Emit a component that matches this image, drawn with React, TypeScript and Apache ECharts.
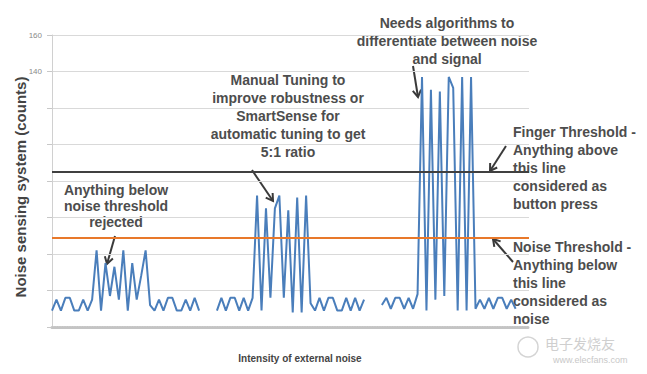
import React, { useEffect, useRef } from "react";
import * as echarts from "echarts";

const sensorCounts: (number | null)[] = [
  // low-noise region
  9, 15, 9, 16, 16, 9, 9, 15, 9, 15, 42, 9, 35, 17, 33, 15, 42, 9, 35, 15, 28, 42,
  12, 9, 15, 9, 16, 16, 9, 9, 15, 9, 16, 9,
  null, null, null,
  // medium-noise region
  9, 16, 9, 16, 16, 9, 16, 9, 16, 72, 9, 65, 16, 65, 72, 16, 64, 8, 71, 8, 72,
  13, 9, 16, 9, 16, 16, 9, 9, 16, 9, 16, 9, 15,
  null, null, null,
  // high-noise region
  12, 16, 10, 16, 16, 10, 16, 10, 18, 137, 9, 130, 15, 129, 17, 137, 131, 9, 137, 9, 137,
  10, 15, 10, 16, 10, 16, 16, 10, 15, 10,
  null, null, null,
];
const sampleIndex = sensorCounts.map((_, i) => String(i));
const yTickLabels = [160, 140];
const fingerThreshold = 85;
const noiseThreshold = 49;

const FONT = "'Liberation Sans', Arial, sans-serif";
const TXT = "#4d4d4d";

function arrow(x1: number, y1: number, x2: number, y2: number) {
  const ang = Math.atan2(y2 - y1, x2 - x1);
  const L = 8;
  const spread = 0.55;
  const a1 = ang + Math.PI - spread;
  const a2 = ang + Math.PI + spread;
  return {
    type: "group",
    silent: true,
    children: [
      { type: "line", shape: { x1, y1, x2, y2 }, style: { stroke: "#3a3a3a", lineWidth: 2 } },
      {
        type: "polyline",
        shape: {
          points: [
            [x2 + L * Math.cos(a1), y2 + L * Math.sin(a1)],
            [x2, y2],
            [x2 + L * Math.cos(a2), y2 + L * Math.sin(a2)],
          ],
        },
        style: { stroke: "#3a3a3a", lineWidth: 2, fill: "none" },
      },
    ],
  };
}

function note(text: string, x: number, y: number, align: string, lh: number) {
  return {
    type: "text",
    x,
    y,
    silent: true,
    style: {
      text,
      fill: TXT,
      font: `bold 14px ${FONT}`,
      align,
      verticalAlign: "top",
      lineHeight: lh,
    },
  };
}

export default function App() {
  const ref = useRef<HTMLDivElement>(null);
  useEffect(() => {
    if (!ref.current) return;
    const chart = echarts.init(ref.current, null, { renderer: "svg" });
    chart.setOption({
      animation: false,
      backgroundColor: "#ffffff",
      grid: { left: 52, top: 35, width: 477, height: 292, containLabel: false },
      xAxis: {
        type: "category",
        data: sampleIndex,
        boundaryGap: false,
        axisLine: { lineStyle: { color: "#c4c4c4", width: 3, type: [1, 1.5] } },
        axisTick: { show: false },
        axisLabel: { show: false },
        splitLine: { show: false },
      },
      yAxis: {
        type: "value",
        min: 0,
        max: 160,
        interval: 20,
        axisLine: { show: true, lineStyle: { color: "#d0d0d0" } },
        axisTick: { show: true, length: 5, lineStyle: { color: "#c8c8c8" } },
        axisLabel: {
          color: "#8a8a8a",
          fontSize: 8,
          fontFamily: FONT,
          margin: 10,
          formatter: (v: number) => (yTickLabels.includes(v) ? String(v) : ""),
        },
        splitLine: { lineStyle: { color: "#d9d9d9" } },
      },
      series: [
        {
          type: "line",
          data: sensorCounts,
          connectNulls: false,
          symbol: "none",
          lineStyle: { color: "#4a7ebb", width: 2 },
          markLine: {
            silent: true,
            symbol: "none",
            label: { show: false },
            data: [
              { yAxis: fingerThreshold, lineStyle: { color: "#404040", width: 2, type: "solid" } },
              { yAxis: noiseThreshold, lineStyle: { color: "#e8782a", width: 2, type: "solid" } },
            ],
          },
        },
      ],
      graphic: [
        {
          type: "text",
          x: 20,
          y: 187,
          rotation: Math.PI / 2,
          silent: true,
          style: {
            text: "Noise sensing system (counts)",
            fill: "#444",
            font: `bold 15px ${FONT}`,
            align: "center",
            verticalAlign: "middle",
          },
        },
        {
          type: "text",
          x: 300,
          y: 358,
          silent: true,
          style: {
            text: "Intensity of external noise",
            fill: "#444",
            font: `bold 10px ${FONT}`,
            align: "center",
            verticalAlign: "middle",
          },
        },
        note("Anything below\nnoise threshold\nrejected", 116, 182, "center", 16),
        note("Manual Tuning to\nimprove robustness or\nSmartSense for\nautomatic tuning to get\n5:1 ratio", 288, 71, "center", 18),
        note("Needs algorithms to\ndifferentiate between noise\nand signal", 447, 14, "center", 18),
        note("Finger Threshold -\nAnything above\nthis line\nconsidered as\nbutton press", 513, 123, "left", 18),
        note("Noise Threshold -\nAnything below\nthis line\nconsidered as\nnoise", 513, 238, "left", 18),
        arrow(115, 236, 107, 264),
        arrow(252, 170, 273, 201),
        arrow(413, 66, 418, 97),
        arrow(506, 146, 490, 171),
        arrow(513, 262, 493, 239),
        {
          type: "text",
          x: 545,
          y: 343,
          silent: true,
          style: { text: "电子发烧友", fill: "#cfcfcf", font: `14px 'Noto Sans CJK SC', sans-serif`, verticalAlign: "middle" },
        },
        {
          type: "text",
          x: 553,
          y: 360,
          silent: true,
          style: { text: "www.elecfans.com", fill: "#c8c8c8", font: `9px ${FONT}`, verticalAlign: "middle" },
        },
        {
          type: "circle",
          shape: { cx: 528, cy: 347, r: 10 },
          silent: true,
          style: { fill: "none", stroke: "#d4d4d4", lineWidth: 1.5 },
        },
      ],
    });
    return () => chart.dispose();
  }, []);
  return (
    <div
      ref={ref}
      style={{ position: "absolute", left: 0, top: 0, width: 647, height: 374 }}
    />
  );
}
